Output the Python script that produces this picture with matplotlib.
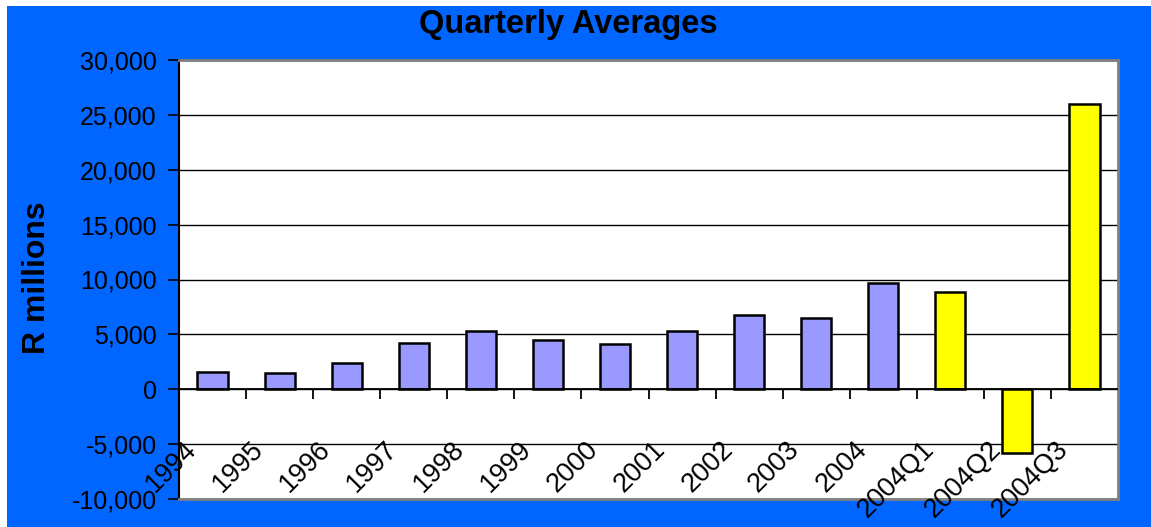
import numpy as np
import matplotlib
matplotlib.use('Agg')
import matplotlib.pyplot as plt
from matplotlib.patches import Rectangle
from matplotlib.ticker import FuncFormatter

plt.rcParams['font.family'] = ['Liberation Sans', 'DejaVu Sans']

# data
categories = ['1994', '1995', '1996', '1997', '1998', '1999', '2000', '2001',
              '2002', '2003', '2004', '2004Q1', '2004Q2', '2004Q3']
values = [1600, 1500, 2350, 4200, 5350, 4450, 4100, 5350,
          6800, 6500, 9700, 8850, -5800, 26000]
annual_colour = '#9999FF'
quarter_colour = '#FFFF00'
colours = [quarter_colour if 'Q' in c else annual_colour for c in categories]

fig = plt.figure(figsize=(11.51, 5.27), dpi=100, facecolor='white')
# blue background, leaving the thin white strip at top and left
fig.patches.append(Rectangle((7 / 1151, 0), 1, 1 - 6 / 527, transform=fig.transFigure,
                             facecolor='#0066FF', edgecolor='none', zorder=-10))

ax = fig.add_axes([179 / 1151, 1 - 499 / 527, (1118 - 179) / 1151, (499 - 60) / 527])
ax.set_facecolor('white')

x = np.arange(len(categories))
ax.bar(x, values, width=0.45, color=colours, edgecolor='black', linewidth=1.8, zorder=3)

ax.set_xlim(-0.5, len(categories) - 0.5)
ax.set_ylim(-10000, 30000)
ax.set_yticks(np.arange(-10000, 30001, 5000))
ax.yaxis.set_major_formatter(FuncFormatter(lambda v, p: f'{int(v):,}'))
ax.tick_params(axis='y', length=8, width=1.2, pad=8, labelsize=18, colors='black')
ax.set_xticks([])
ax.yaxis.grid(True, color='black', linewidth=1.0, zorder=1)
ax.set_axisbelow(True)

for side in ['top', 'right', 'bottom']:
    ax.spines[side].set_color('#808080')
    ax.spines[side].set_linewidth(2)
ax.spines['left'].set_color('black')
ax.spines['left'].set_linewidth(1.5)

# category axis on the zero line with boundary tick marks
ax.axhline(0, color='black', linewidth=1.3, zorder=4)
ax.vlines(x[:-1] + 0.5, -900, 0, color='black', linewidth=1.3, zorder=4)

for i, c in enumerate(categories):
    ax.text(i - 0.44, -4250, c, rotation=45, rotation_mode='anchor',
            ha='right', va='top', fontsize=19.5, zorder=5, clip_on=False)

fig.text(568 / 1151, 1 - 25 / 527, 'Quarterly Averages', ha='center', va='center',
         fontsize=23.5, fontweight='bold')
fig.text(37 / 1151, 1 - 278 / 527, 'R millions', ha='center', va='center',
         rotation=90, fontsize=23, fontweight='bold')

fig.savefig('out.png', dpi=100, facecolor=fig.get_facecolor())
